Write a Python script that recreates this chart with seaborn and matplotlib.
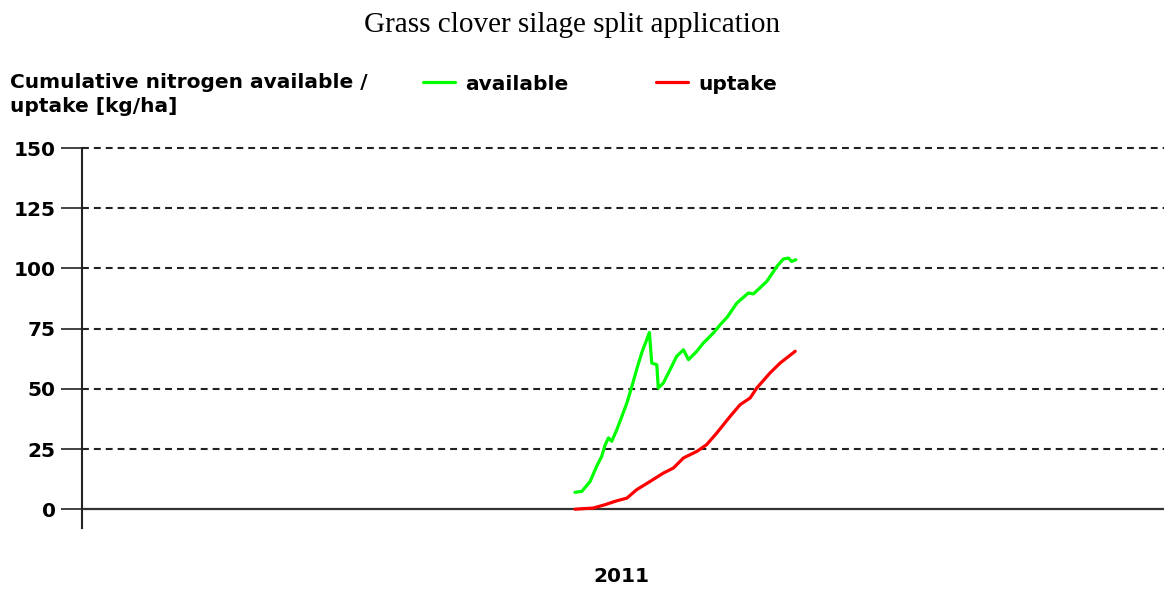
import pandas as pd
import matplotlib
matplotlib.use("Agg")
import matplotlib.pyplot as plt
import seaborn as sns

# day of year / cumulative N [kg/ha]
avail_day = [166.3, 168.6, 171.4, 173.6, 175.3, 176.5, 177.6, 178.7, 180.4, 182.1,
             183.8, 185.5, 187.1, 188.8, 190.5, 191.4, 192.2, 193.9, 194.4, 196.1,
             198.4, 200.6, 202.9, 204.6, 207.4, 209.6, 213.0, 215.3, 217.8, 220.9,
             224.8, 226.5, 231.0, 234.4, 236.6, 238.3, 239.4, 240.8]
avail_val = [7.0, 7.4, 11.5, 17.8, 21.9, 26.8, 29.6, 28.2, 33.0, 38.5,
             44.1, 51.0, 58.0, 64.9, 70.4, 73.4, 60.7, 60.0, 50.3, 52.4,
             58.0, 63.5, 66.2, 62.1, 65.6, 69.0, 73.2, 76.6, 80.0, 85.6,
             89.8, 89.4, 94.6, 100.8, 103.9, 104.3, 102.9, 103.6]

uptake_day = [166.3, 172.5, 176.5, 180.4, 183.8, 187.1, 191.6, 196.1, 199.5, 202.9,
              207.4, 210.7, 214.1, 218.6, 222.0, 225.4, 227.6, 232.1, 235.5, 240.6]
uptake_val = [0.0, 0.5, 1.9, 3.5, 4.6, 8.1, 11.5, 15.0, 17.1, 21.3,
              24.0, 26.8, 31.6, 38.5, 43.4, 46.2, 50.3, 56.6, 60.7, 65.6]

yticks = [0, 25, 50, 75, 100, 125, 150]

df = pd.concat([
    pd.DataFrame({"day": avail_day, "N": avail_val, "series": "available"}),
    pd.DataFrame({"day": uptake_day, "N": uptake_val, "series": "uptake"}),
])

sns.set_style("white")
plt.rcParams["font.family"] = ["DejaVu Sans"]
plt.rcParams["text.color"] = "black"
plt.rcParams["ytick.color"] = "black"

fig = plt.figure(figsize=(11.64, 5.89), dpi=100)
ax = fig.add_axes([82 / 1164, 1 - 528 / 589, 1 - 82 / 1164, (528 - 148) / 589])

for y in yticks[1:]:
    ax.axhline(y, color="#222222", lw=1.5, ls=(0, (3.3, 2.4)), zorder=1, clip_on=False)
ax.axhline(0, color="#333333", lw=1.6, zorder=1)

sns.lineplot(data=df, x="day", y="N", hue="series",
             palette={"available": "#00ff00", "uptake": "#ff0000"},
             lw=2.3, sort=False, ax=ax, zorder=3)

ax.set_xlim(0, 365)
ax.set_ylim(-7.8, 150)
ax.set_yticks(yticks)
ax.set_yticklabels([str(v) for v in yticks], fontweight="bold", fontsize=14.5, color="black")
ax.set_xticks([])
ax.tick_params(axis="y", left=True, direction="out", length=15, width=1.2, pad=4,
               color="#222222")
for s in ["top", "right", "bottom"]:
    ax.spines[s].set_visible(False)
ax.spines["left"].set_color("#222222")
ax.spines["left"].set_linewidth(1.5)
ax.set_xlabel("")
ax.set_ylabel("")

ax.get_legend().remove()
h, l = ax.get_legend_handles_labels()
leg = fig.legend(h, l, loc="center left", bbox_to_anchor=(423 / 1164, 1 - 84 / 589),
                 ncol=2, frameon=False, borderpad=0, borderaxespad=0,
                 handlelength=1.6, handletextpad=0.5, columnspacing=4.35,
                 prop={"weight": "bold", "size": 14.5})

fig.text(10 / 1164, 1 - 88 / 589, "Cumulative nitrogen available /",
         fontweight="bold", fontsize=14.5, va="baseline")
fig.text(10 / 1164, 1 - 112 / 589, "uptake [kg/ha]",
         fontweight="bold", fontsize=14.5, va="baseline")
fig.text(621 / 1164, 1 - 576 / 589, "2011", fontweight="bold", fontsize=14.5,
         ha="center", va="center")
fig.text(572 / 1164, 1 - 32 / 589, "Grass clover silage split application",
         family="Liberation Serif", fontsize=21, ha="center", va="baseline")

fig.savefig("out.png", dpi=100)
